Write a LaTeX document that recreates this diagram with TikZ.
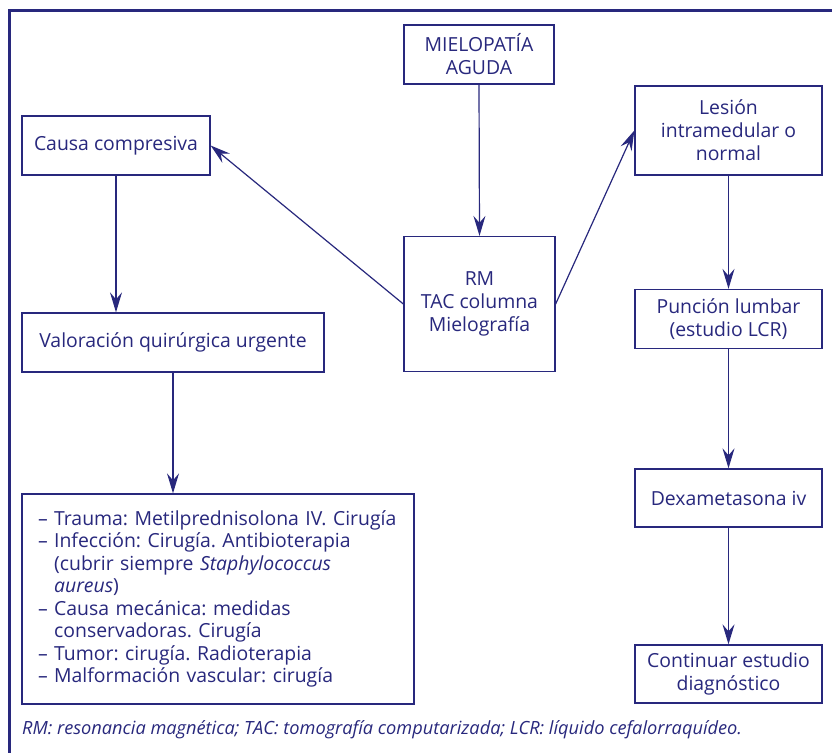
\documentclass[tikz,border=0pt]{standalone}
\usepackage{fontspec}
\setmainfont{Open Sans}
\usetikzlibrary{arrows.meta}
\definecolor{navyc}{RGB}{40,40,125}
\frenchspacing
\begin{document}
\begin{tikzpicture}[x=1pt,y=-1pt,
  box/.style={draw=navyc, line width=1.3pt, text=navyc, inner sep=0pt, align=center,
    font=\fontsize{19.4}{23}\selectfont},
  arr/.style={draw=navyc, line width=1.2pt, -{Stealth[length=20pt,width=12pt,inset=7pt]}}]
\useasboundingbox (0,0) rectangle (832,752);
\fill[white] (0,0) rectangle (832,752);
\draw[navyc, line width=3pt] (9,760) -- (9,11) -- (840,11);

\node[box, minimum width=150pt, minimum height=59pt] (mielo) at (479,54.5) {MIELOPATÍA\\AGUDA};
\node[box, minimum width=188pt, minimum height=59pt] (causa) at (116,145.5) {Causa compresiva};
\node[box, minimum width=187pt, minimum height=89pt] (lesion) at (728.5,130.5) {Lesión\\intramedular o\\normal};
\node[box, minimum width=151pt, minimum height=135pt] (rm) at (479.5,304) {RM\\TAC columna\\Mielografía};
\node[box, minimum width=302pt, minimum height=59pt] (valor) at (173,342.5) {Valoración quirúrgica urgente};
\node[box, minimum width=187pt, minimum height=59pt] (puncion) at (728.5,319) {Punción lumbar\\(estudio LCR)};
\node[box, minimum width=187pt, minimum height=58pt] (dexa) at (728.5,498) {Dexametasona iv};
\node[box, minimum width=187pt, minimum height=58pt] (cont) at (728.5,674) {Continuar estudio\\diagnóstico};
\node[box, minimum width=392pt, minimum height=210pt, text width=360pt, align=left,
  inner xsep=16pt, font=\fontsize{19.4}{22.5}\selectfont] (lista) at (218,599)
  {\mbox{– Trauma: Metilprednisolona IV. Cirugía}\\
   – Infección: Cirugía. Antibioterapia\\
   \phantom{– }(cubrir siempre \textit{Staphylococcus}\\
   \phantom{– }\textit{aureus})\\
   – Causa mecánica: medidas\\
   \phantom{– }conservadoras. Cirugía\\
   – Tumor: cirugía. Radioterapia\\
   – Malformación vascular: cirugía};

\node[text=navyc, anchor=base west, inner sep=0pt, font=\itshape\fontsize{18.2}{20}\selectfont] (foot) at (22,734)
  {RM: resonancia magnética; TAC: tomografía computarizada; LCR: líquido cefalorraquídeo.};

\draw[arr] (mielo.south) -- (rm.north);
\draw[arr] (rm.west) -- (causa.east);
\draw[arr] (rm.east) -- (lesion.west);
\draw[arr] (causa.south) -- (causa.south |- valor.north);
\draw[arr] (valor.south) -- (valor.south |- lista.north);
\draw[arr] (lesion.south) -- (puncion.north);
\draw[arr] (puncion.south) -- (dexa.north);
\draw[arr] (dexa.south) -- (cont.north);
\end{tikzpicture}
\end{document}
